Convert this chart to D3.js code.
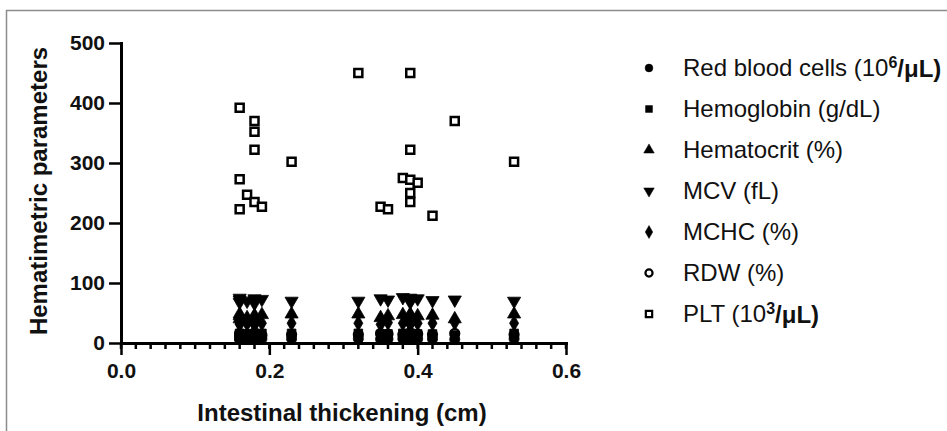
<!DOCTYPE html>
<meta charset="utf-8">
<script src="https://d3js.org/d3.v7.min.js"></script>
<style>
  body { margin: 0; background: #fff; }
  text { font-family: "Liberation Sans", Arial, sans-serif; }
</style>
<div id="chart"></div>
<script>
// one entry per animal: intestinal thickening (cm) and its blood values
var thickness = [0.16, 0.16, 0.16, 0.17, 0.18, 0.18, 0.18, 0.18, 0.19, 0.23, 0.32, 0.35,
                 0.36, 0.38, 0.39, 0.39, 0.39, 0.39, 0.39, 0.40, 0.42, 0.45, 0.53];
var rbc  = [6.5, 5.8, 7.2, 6.1, 6.8, 5.5, 6.6, 6.0, 7.0, 6.9, 7.0, 6.2, 6.7, 7.1, 6.5, 5.9, 7.3, 6.3, 6.6, 6.8, 6.7, 5.8, 7.0];
var hgb  = [15, 13, 16, 14, 15, 12, 15, 14, 16, 16, 16, 14, 15, 16, 15, 13, 16, 14, 15, 15, 15, 13, 16];
var hct  = [45, 40, 48, 42, 46, 38, 44, 41, 47, 48, 48, 42, 45, 47, 44, 40, 48, 43, 46, 45, 46, 40, 48];
var mcv  = [72, 68, 75, 70, 74, 66, 71, 69, 73, 70, 70, 74, 72, 76, 73, 68, 75, 70, 72, 74, 71, 72, 70];
var mchc = [33, 31, 34, 32, 33, 30, 34, 32, 33, 33, 33, 31, 34, 33, 32, 31, 34, 33, 32, 33, 33, 34, 33];
var rdw  = [14, 16, 13, 15, 14, 17, 15, 16, 13, 14, 14, 16, 15, 14, 15, 17, 13, 15, 14, 15, 14, 16, 14];
var plt  = [392, 273, 223, 247, 370, 352, 322, 235, 227, 302, 450, 227, 223, 275, 450, 322, 272, 250, 235, 267, 212, 370, 302];

var yTicks = [0, 100, 200, 300, 400, 500];
var xTicks = [0, 0.2, 0.4, 0.6];

var W = 947, H = 431;
var svg = d3.select("#chart").append("svg")
  .attr("width", W).attr("height", H);

// grey frame (only top and left edges visible)
svg.append("path")
  .attr("d", "M6.5," + H + "V10.5H" + W)
  .attr("fill", "none").attr("stroke", "#8c8c8c").attr("stroke-width", 1.5);

var x = d3.scaleLinear().domain([0, 0.6]).range([121, 566]);
var y = d3.scaleLinear().domain([0, 500]).range([343, 43]);

// minor ticks on x
svg.append("g")
  .selectAll("line")
  .data(d3.range(0, 31).map(function(i) { return i * 0.02; }))
  .enter().append("line")
    .attr("x1", function(d) { return x(d); })
    .attr("x2", function(d) { return x(d); })
    .attr("y1", 343).attr("y2", 349)
    .attr("stroke", "#000").attr("stroke-width", 2.5);

var gx = svg.append("g")
  .attr("transform", "translate(0,343)")
  .call(d3.axisBottom(x).tickValues(xTicks).tickSize(12).tickSizeOuter(0).tickPadding(8)
    .tickFormat(d3.format(".1f")));

var gy = svg.append("g")
  .attr("transform", "translate(121,0)")
  .call(d3.axisLeft(y).tickValues(yTicks).tickSize(12).tickSizeOuter(0).tickPadding(4));

[gx, gy].forEach(function(g) {
  g.select(".domain").attr("stroke-width", 3).attr("stroke-linecap", "square");
  g.selectAll(".tick line").attr("stroke-width", 2.5);
  g.selectAll(".tick text")
    .attr("font-family", "Liberation Sans, Arial, sans-serif")
    .attr("font-weight", "bold").attr("font-size", 21).attr("fill", "#111");
});

svg.append("text")
  .attr("x", 342).attr("y", 421)
  .attr("text-anchor", "middle")
  .attr("font-weight", "bold").attr("font-size", 24).attr("fill", "#111")
  .text("Intestinal thickening (cm)");

svg.append("text")
  .attr("transform", "translate(47,191) rotate(-90)")
  .attr("text-anchor", "middle")
  .attr("font-weight", "bold").attr("font-size", 24).attr("fill", "#111")
  .text("Hematimetric parameters");

// series definitions
var series = [
  { name: "Red blood cells (10", sup: "6", tail: "/\u03bcL)", values: rbc,  shape: d3.symbolCircle,   rot: 0,   open: false, size: 80 },
  { name: "Hemoglobin (g/dL)",   values: hgb,  shape: d3.symbolSquare,   rot: 0,   open: false, size: 75 },
  { name: "Hematocrit (%)",      values: hct,  shape: d3.symbolTriangle, rot: 0,   open: false, size: 75 },
  { name: "MCV (fL)",            values: mcv,  shape: d3.symbolTriangle, rot: 180, open: false, size: 75 },
  { name: "MCHC (%)",            values: mchc, shape: d3.symbolDiamond,  rot: 0,   open: false, size: 70 },
  { name: "RDW (%)",             values: rdw,  shape: d3.symbolCircle,   rot: 0,   open: true,  size: 60 },
  { name: "PLT (10", sup: "3", tail: "/\u03bcL)", values: plt, shape: d3.symbolSquare, rot: 0, open: true, size: 64 }
];

// open circles go underneath so the low cluster reads as a solid block
var drawOrder = [5, 0, 1, 2, 3, 4, 6];
drawOrder.forEach(function(k) {
  var s = series[k];
  var sym = d3.symbol().type(s.shape).size(s.size);
  svg.append("g")
    .selectAll("path")
    .data(s.values)
    .enter().append("path")
      .attr("d", sym)
      .attr("transform", function(d, i) {
        return "translate(" + x(thickness[i]) + "," + y(d) + ") rotate(" + s.rot + ")";
      })
      .attr("fill", s.open ? "#fff" : "#000")
      .attr("stroke", "#000")
      .attr("stroke-width", s.open ? 2.5 : 0.8);
});

// legend
var legend = svg.append("g").selectAll("g")
  .data(series)
  .enter().append("g")
    .attr("transform", function(d, i) { return "translate(649," + (68 + i * 41) + ")"; });

legend.append("path")
  .attr("d", function(d) { return d3.symbol().type(d.shape).size(d.open ? 40 : 48)(); })
  .attr("transform", function(d) { return "rotate(" + d.rot + ")"; })
  .attr("fill", function(d) { return d.open ? "#fff" : "#000"; })
  .attr("stroke", "#000")
  .attr("stroke-width", function(d) { return d.open ? 2.2 : 0.5; });

var lt = legend.append("text")
  .attr("x", 34).attr("y", 0)
  .attr("dy", "0.35em")
  .attr("font-size", 24)
  .attr("fill", "#111");
lt.append("tspan").text(function(d) { return d.name; });
lt.filter(function(d) { return d.sup; }).append("tspan")
  .attr("font-weight", "bold").attr("font-size", 16).attr("dy", "-0.55em")
  .text(function(d) { return d.sup; });
lt.filter(function(d) { return d.sup; }).append("tspan")
  .attr("font-weight", "bold").attr("dy", "0.4em")
  .text(function(d) { return d.tail; });
</script>
